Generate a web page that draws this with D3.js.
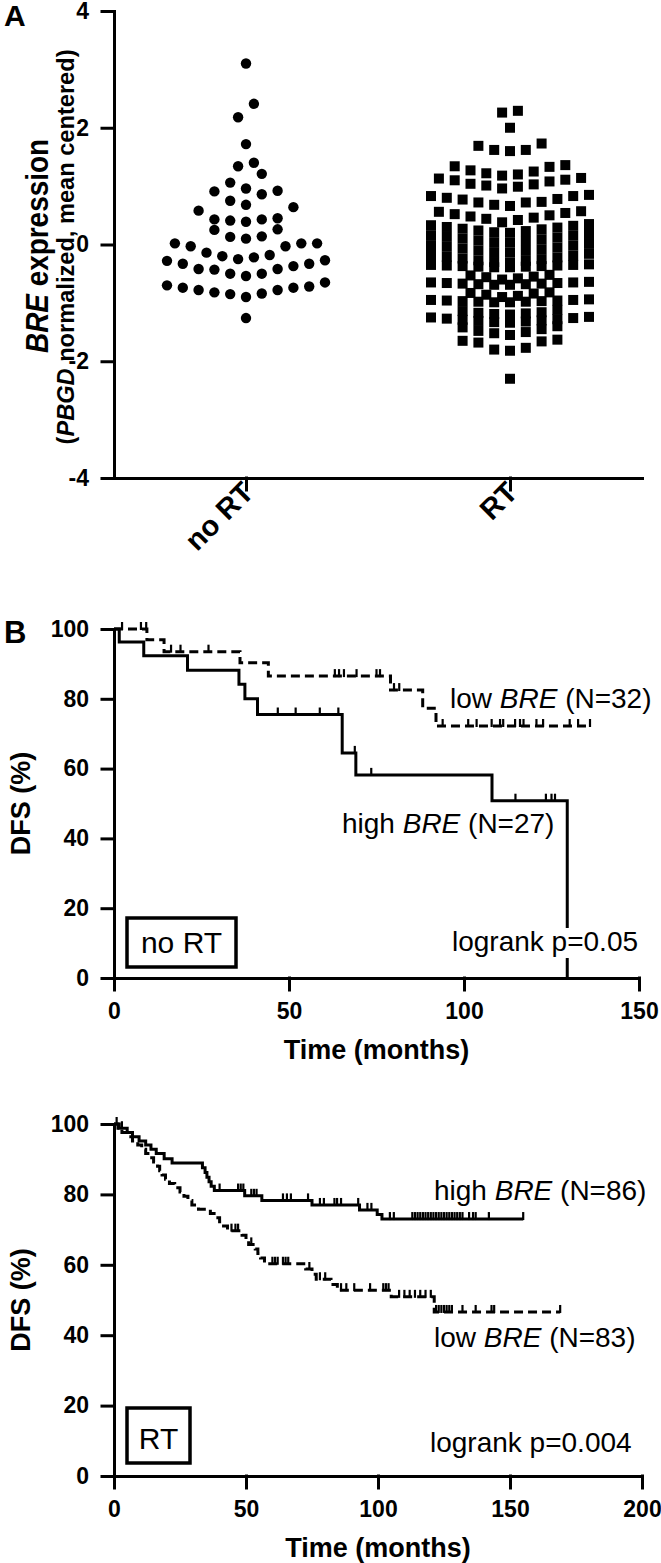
<!DOCTYPE html>
<html><head><meta charset="utf-8">
<script src="https://cdn.jsdelivr.net/npm/d3@7"></script>
<style>
body{margin:0;background:#fff;}
svg{display:block;font-family:"Liberation Sans",Arial,Helvetica,sans-serif;}
</style></head><body>
<svg id="c" width="661" height="1563"></svg>
<script>
// ---------------- DATA ----------------
const groups = ["no RT", "RT"];
const exprTicks = [-4, -2, 0, 2, 4];
const noRTValues = [3.10, 2.41, 2.18, 1.72, 1.34, 1.40, 1.21, 1.06, 0.92, 0.86, 0.96, 0.91,
  0.68, 0.75, 0.64, 0.58, 0.43, 0.41, 0.39, 0.43, 0.45, 0.25, 0.13, 0.26, 0.14, 0.10,
  -0.03, 0.02, 0.02, 0.02, -0.03, -0.18, -0.22, -0.25, -0.20, -0.14, -0.28, -0.33, -0.37,
  -0.33, -0.27, -0.42, -0.50, -0.54, -0.50, -0.43, -0.42, -0.70, -0.74, -0.78, -0.82,
  -0.85, -0.90, -0.84, -0.78, -0.74, -0.72, -0.65, -1.26];
const RTValues = [2.29, 2.26, 2.00,
  1.73, 1.69, 1.62, 1.62, 1.60,
  1.36, 1.34, 1.33, 1.27, 1.25, 1.22, 1.20, 1.18,
  1.14, 1.13, 1.11, 1.10, 1.08, 1.04, 1.03, 1.01, 0.99, 0.96,
  0.85, 0.83, 0.83, 0.80, 0.78, 0.77, 0.73, 0.72, 0.72, 0.68, 0.66,
  0.57, 0.56, 0.54, 0.52, 0.50, 0.48, 0.46, 0.44, 0.42, 0.38,
  0.35, 0.33, 0.32, 0.30, 0.29, 0.27, 0.26, 0.24, 0.23, 0.21, 0.20,
  0.18, 0.16, 0.15, 0.13, 0.12, 0.10, 0.09, 0.07, 0.06, 0.04, 0.03,
  0.01, -0.01, -0.02, -0.04, -0.05, -0.07, -0.08, -0.10, -0.11, -0.13, -0.14,
  -0.16, -0.18, -0.19, -0.21, -0.22, -0.24, -0.25, -0.27, -0.28, -0.30, -0.31,
  -0.34, -0.35, -0.35, -0.36, -0.36, -0.37, -0.37, -0.38, -0.38, -0.39, -0.39,
  -0.52, -0.53, -0.55, -0.56, -0.58, -0.60,
  -0.64, -0.65, -0.65, -0.66, -0.66, -0.67, -0.67, -0.68, -0.68, -0.69, -0.69,
  -0.82, -0.83, -0.84, -0.86, -0.88, -0.90,
  -0.94, -0.95, -0.95, -0.96, -0.96, -0.97, -0.97, -0.98, -0.98, -0.99, -0.99,
  -1.12, -1.14, -1.16, -1.17, -1.18, -1.19, -1.20,
  -1.24, -1.25, -1.26, -1.27, -1.28, -1.29, -1.30, -1.31, -1.32, -1.33, -1.34,
  -1.40, -1.42, -1.45, -1.48, -1.50, -1.52, -1.55,
  -1.63, -1.65, -1.66, -1.68, -1.77, -1.80, -1.82, -2.30];

const dfsTicks = [0, 20, 40, 60, 80, 100];
const timeTicksNoRT = [0, 50, 100, 150];
const timeTicksRT = [0, 50, 100, 150, 200];

// Kaplan-Meier steps [time, DFS%], no RT
const noRTHighSteps = [[0,100],[1.5,96.3],[8.5,92.3],[21,88.2],[35.7,84.2],[37.4,80.0],[41,75.5],[65.2,64.5],[69.1,58.2],[108,50.8],[129.5,0]];
const noRTHighEnd = 129.5;
const noRTHighCensor = [46.8, 51.9, 58.8, 64.1, 68.8, 73.5, 114.7, 123.4, 125, 126];
const noRTLowSteps = [[0,100],[9.4,96.9],[14.3,93.5],[36,90.3],[44.1,86.5],[79,82.5],[88.2,77.3],[92,72.2]];
const noRTLowEnd = 136;
const noRTLowCensor = [2.3, 7.7, 9.2, 16.3, 19, 27, 63.1, 64.3, 65.7, 69.3, 75, 76, 80, 81.5, 93.9, 101.2, 103.6, 107.9, 110.3, 111.2, 114.6, 116, 117, 120.7, 122.6, 130.2, 132.6, 136];

// RT
const RTHighSteps = [[0,100],[2,98.8],[5,97.6],[7,96.4],[9.5,95.2],[12,94.0],[14,92.8],[16,91.6],[19,90.1],[22,88.9],[33.5,87.6],[34.5,86.2],[35.2,84.9],[36,83.6],[36.8,82.3],[38,81.1],[49.5,79.6],[56,78.3],[75,77.0],[93,75.6],[99.7,74.3],[101.5,73.0]];
const RTHighEnd = 155;
const RTHighCensor = [1, 3, 40, 47, 48, 49, 52, 53, 54, 64, 65.5, 67, 73.5, 78, 79.5, 83.5, 84.5, 86, 92.5, 96, 97.5, 104.5, 106,
  113, 114, 115, 116, 117, 118, 119, 120, 121, 122, 123, 124, 125, 126, 127, 128, 129, 130, 131, 132, 134.5, 136, 137, 142, 155];
const RTLowSteps = [[0,100],[1.5,98.8],[3,97.6],[5,96.4],[7,95.2],[9,94.0],[10.5,92.8],[12,91.6],[13.5,90.4],[15,89.2],[16.5,88.0],[17.3,86.7],[18.2,85.5],[19.5,84.3],[21,83.1],[23,81.9],[25,80.7],[26.5,79.5],[28,78.3],[29.5,77.0],[32,75.8],[36.5,74.6],[38.5,73.4],[40,72.2],[41.5,71.0],[43,69.7],[48.5,68.4],[50,67.1],[51,65.8],[53.5,64.5],[54.5,63.2],[55.5,61.9],[57,60.3],[72.6,58.8],[75,57.3],[76.6,55.9],[82.2,54.4],[84.6,52.8],[105,50.9],[121.3,46.6]];
const RTLowEnd = 169;
const RTLowCensor = [44.5, 46, 47, 52, 60, 61, 62, 64, 65, 66, 74, 78, 80, 86, 88, 91, 97, 102, 103, 104, 108, 110, 112, 114, 116, 118, 120,
  122, 123, 124, 125, 126, 127, 128, 132, 137, 143, 144, 169];

// ---------------- DRAW ----------------
const svg = d3.select("#c");
const AX = 3;
const FF = '"Liberation Sans",Arial,sans-serif';

function styleAxis(g, fs) {
  g.attr("font-size", fs).attr("font-family", FF);
  g.selectAll("path,line").attr("stroke", "#000").attr("stroke-width", AX).attr("stroke-linecap", "square");
  g.selectAll("text").attr("fill", "#000")
    .style("font-size", fs + "px").style("font-weight", "bold").style("font-family", FF);
}
const fmt = d => String(d);

// Panel A
const yA = d3.scaleLinear().domain([-4, 4]).range([478, 11]);
const xA = d3.scalePoint().domain(groups).range([114, 642]).padding(0.5);
const gA = svg.append("g");
gA.append("g").attr("transform", "translate(114,0)")
  .call(d3.axisLeft(yA).tickValues(exprTicks).tickFormat(fmt).tickSize(12).tickSizeOuter(0).tickPadding(13))
  .call(g => styleAxis(g, 23));
gA.append("g").attr("transform", "translate(0,478)")
  .call(d3.axisBottom(xA).tickSize(12).tickSizeOuter(0).tickFormat(""))
  .call(g => styleAxis(g, 23));
groups.forEach(g => {
  gA.append("text").attr("transform", `translate(${xA(g) + 2},${487}) rotate(-45)`)
    .attr("text-anchor", "end").attr("dy", "0.35em")
    .style("font-size", "29px").style("font-weight", "bold").text(g);
});

// row-binned dot layout: a row collects sorted values within w of its first value (max cap);
// inside a row the values go centre-out, alternating left / right
function swarm(values, w, cap) {
  const s = values.slice().sort((a, b) => a - b);
  const rows = []; let cur = [];
  s.forEach(v => {
    if (cur.length && (v - cur[0] > w + 1e-9 || cur.length >= cap)) { rows.push(cur); cur = []; }
    cur.push(v);
  });
  if (cur.length) rows.push(cur);
  const out = [];
  rows.forEach(r => {
    const n = r.length;
    r.forEach((v, i) => {
      let k;
      if (n % 2) { k = i === 0 ? 0 : (i % 2 ? -1 : 1) * Math.ceil(i / 2); }
      else { const m = Math.floor(i / 2); k = (i % 2 ? 1 : -1) * (m + 0.5); }
      out.push({ v, k });
    });
  });
  return out;
}
const colStep = 15.8;
gA.append("g").selectAll("circle").data(swarm(noRTValues, 0.275, 11)).join("circle")
  .attr("cx", d => xA("no RT") + d.k * colStep).attr("cy", d => yA(d.v)).attr("r", 5.2).attr("fill", "#000");
gA.append("g").selectAll("rect").data(swarm(RTValues, 0.2, 11)).join("rect")
  .attr("x", d => xA("RT") + d.k * colStep - 5).attr("y", d => yA(d.v) - 5)
  .attr("width", 10).attr("height", 10).attr("fill", "#000");

// y label A
const yl = gA.append("text").attr("transform", "translate(48,246) rotate(-90)").attr("text-anchor", "middle")
  .attr("textLength", 214).attr("lengthAdjust", "spacingAndGlyphs")
  .style("font-size", "31px").style("font-weight", "bold");
yl.append("tspan").attr("font-style", "italic").text("BRE");
yl.append("tspan").text(" expression");
const yl2 = gA.append("text").attr("transform", "translate(74,247) rotate(-90)").attr("text-anchor", "middle")
  .attr("textLength", 395).attr("lengthAdjust", "spacingAndGlyphs")
  .style("font-size", "23px").style("font-weight", "bold");
yl2.append("tspan").text("(");
yl2.append("tspan").attr("font-style", "italic").text("PBGD");
yl2.append("tspan").text(" normalized, mean centered)");
svg.append("text").attr("x", 4).attr("y", 26).style("font-size", "30px").style("font-weight", "bold").text("A");
svg.append("text").attr("x", 4).attr("y", 643).style("font-size", "31px").style("font-weight", "bold").text("B");

// KM panels
function survAt(steps, t) { let s = steps[0][1]; steps.forEach(([tt, ss]) => { if (tt <= t) s = ss; }); return s; }
function kmPanel(opt) {
  const x = d3.scaleLinear().domain(opt.xd).range([114, opt.xr]);
  const y = d3.scaleLinear().domain([0, 100]).range([opt.y0, opt.y100]);
  const g = svg.append("g");
  const line = d3.line().x(d => x(d[0])).y(d => y(d[1])).curve(d3.curveStepAfter);
  opt.curves.forEach(c => {
    const pts = c.steps.concat([[c.end, c.steps[c.steps.length - 1][1]]]);
    g.append("path").attr("d", line(pts)).attr("fill", "none").attr("stroke", "#000")
      .attr("stroke-width", 3).attr("stroke-dasharray", c.dash ? "9,5" : null);
    g.append("g").selectAll("line").data(c.censor).join("line")
      .attr("x1", t => x(t)).attr("x2", t => x(t))
      .attr("y1", t => y(survAt(c.steps, t)) + 1).attr("y2", t => y(survAt(c.steps, t)) - 7)
      .attr("stroke", "#000").attr("stroke-width", 2.2);
  });
  g.append("g").attr("transform", "translate(114,0)")
    .call(d3.axisLeft(y).tickValues(dfsTicks).tickFormat(fmt).tickSize(12).tickSizeOuter(0).tickPadding(13))
    .call(a => styleAxis(a, 23));
  g.append("g").attr("transform", `translate(0,${opt.y0})`)
    .call(d3.axisBottom(x).tickValues(opt.xt).tickFormat(fmt).tickSize(12).tickSizeOuter(0).tickPadding(13))
    .call(a => styleAxis(a, 23));
  g.append("text").attr("transform", `translate(30,${(opt.y0 + opt.y100) / 2}) rotate(-90)`)
    .attr("text-anchor", "middle").style("font-size", "27px").style("font-weight", "bold").text("DFS (%)");
  g.append("text").attr("x", (114 + opt.xr) / 2).attr("y", opt.y0 + 81)
    .attr("text-anchor", "middle").style("font-size", "27px").style("font-weight", "bold").text("Time (months)");
  opt.labels.forEach(l => {
    if (l.bg) {
      g.append("rect").attr("x", l.x - 2).attr("y", l.y - 23).attr("width", 190).attr("height", 30).attr("fill", "#fff");
    }
    const t = g.append("text").attr("x", l.x).attr("y", l.y).style("font-size", "28px");
    l.parts.forEach(p => t.append("tspan").attr("font-style", p[1] ? "italic" : null).text(p[0]));
  });
  g.append("rect").attr("x", opt.box[0]).attr("y", opt.box[1]).attr("width", opt.box[2]).attr("height", opt.box[3])
    .attr("fill", "none").attr("stroke", "#000").attr("stroke-width", 3.5);
  g.append("text").attr("x", opt.box[0] + opt.box[2] / 2).attr("y", opt.box[1] + opt.box[3] - 14)
    .attr("text-anchor", "middle").style("font-size", "30px").text(opt.boxText);
}

kmPanel({
  xd: [0, 150], xr: 639, xt: timeTicksNoRT, y0: 978, y100: 629,
  curves: [
    { steps: noRTLowSteps, end: noRTLowEnd, censor: noRTLowCensor, dash: true },
    { steps: noRTHighSteps, end: noRTHighEnd, censor: noRTHighCensor, dash: false }
  ],
  labels: [
    { x: 450, y: 708, parts: [["low "], ["BRE", 1], [" (N=32)"]] },
    { x: 342, y: 833, parts: [["high "], ["BRE", 1], [" (N=27)"]] },
    { x: 452, y: 951, parts: [["logrank p=0.05"]], bg: true }
  ],
  box: [127, 918, 109, 49], boxText: "no RT"
});
kmPanel({
  xd: [0, 200], xr: 642, xt: timeTicksRT, y0: 1476, y100: 1124,
  curves: [
    { steps: RTLowSteps, end: RTLowEnd, censor: RTLowCensor, dash: true },
    { steps: RTHighSteps, end: RTHighEnd, censor: RTHighCensor, dash: false }
  ],
  labels: [
    { x: 434, y: 1200, parts: [["high "], ["BRE", 1], [" (N=86)"]] },
    { x: 434, y: 1347, parts: [["low "], ["BRE", 1], [" (N=83)"]] },
    { x: 430, y: 1452, parts: [["logrank p=0.004"]] }
  ],
  box: [127, 1408, 63, 55], boxText: "RT"
});
</script>
</body></html>
